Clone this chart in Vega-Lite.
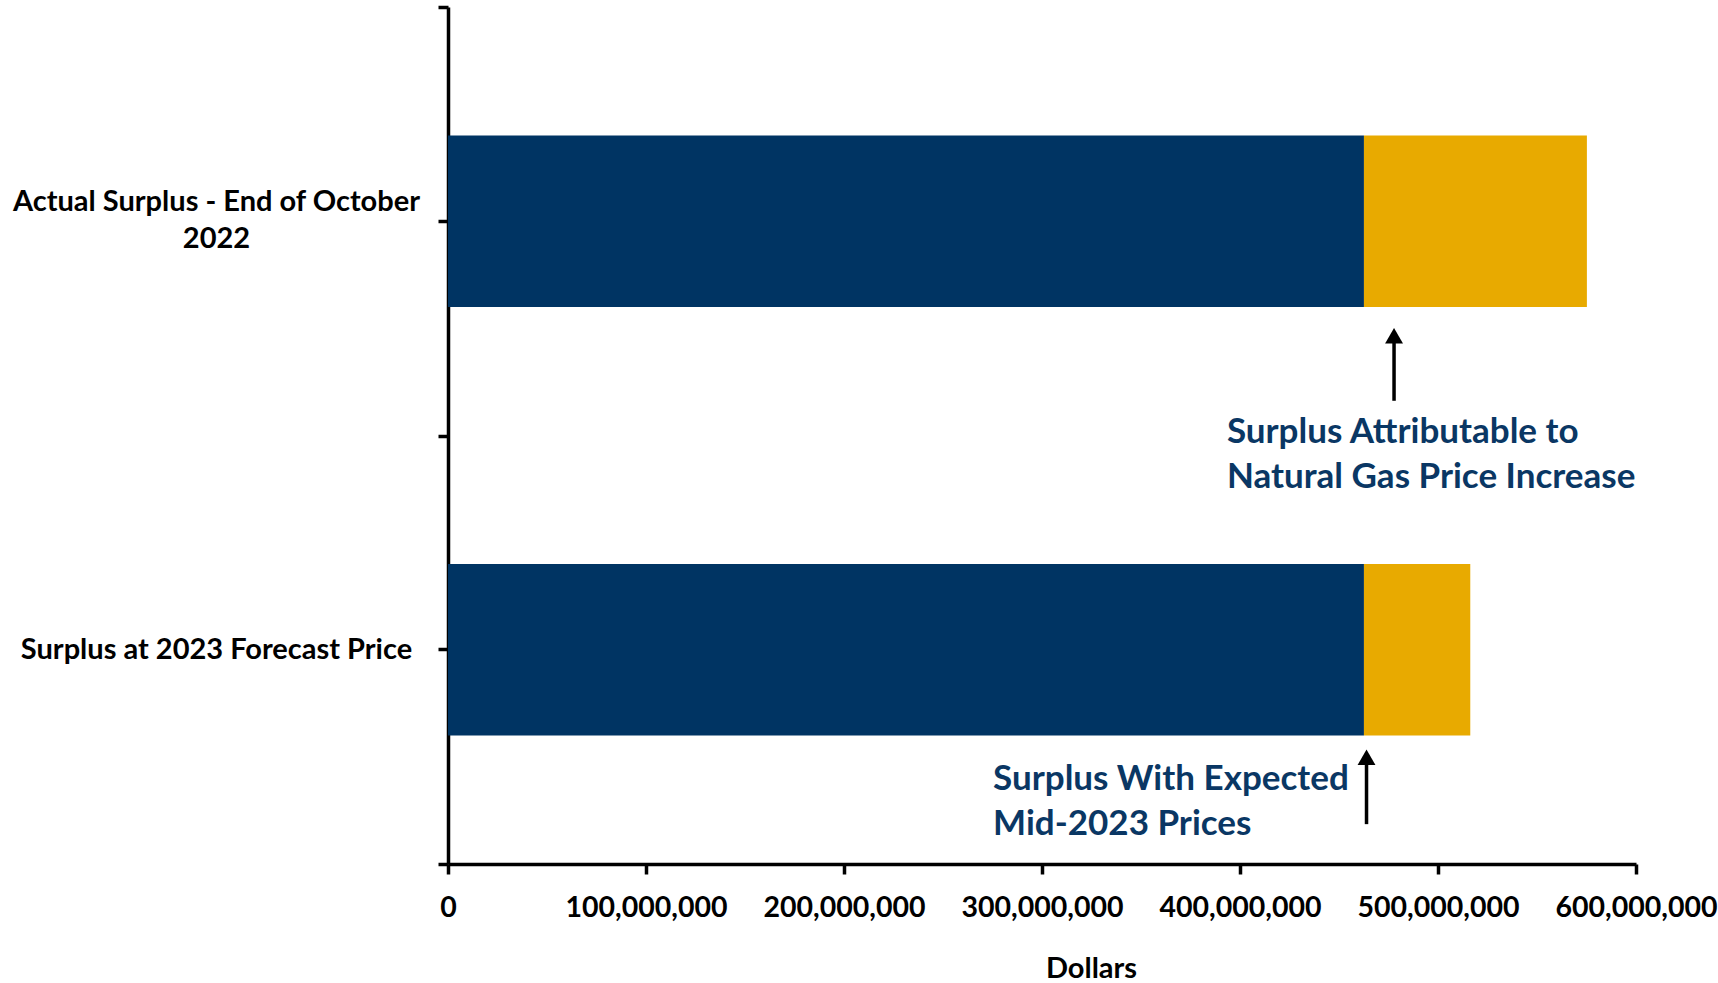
{
  "$schema": "https://vega.github.io/schema/vega-lite/v6.json",
  "autosize": {"type": "none"},
  "padding": {"left": 448, "top": 7, "right": 82, "bottom": 119},
  "width": 1188,
  "height": 857,
  "background": "white",
  "config": {
    "view": {"stroke": null},
    "font": "Lato",
    "axis": {"grid": false}
  },
  "datasets": {
    "bars": [
      {"cat": "Actual Surplus - End of October 2022", "part": "Base", "value": 462600000},
      {"cat": "Actual Surplus - End of October 2022", "part": "Increase", "value": 112600000},
      {"cat": "Surplus at 2023 Forecast Price", "part": "Base", "value": 462600000},
      {"cat": "Surplus at 2023 Forecast Price", "part": "Increase", "value": 53700000}
    ],
    "arrows": [
      {"x": 477800000, "tip": 0.751, "end": 0.919, "head": 0.767},
      {"x": 463900000, "tip": 1.735, "end": 1.907, "head": 1.751}
    ],
    "notes": [
      {"x": 393400000, "y": 0.9915, "label": "Surplus Attributable to\nNatural Gas Price Increase"},
      {"x": 275300000, "y": 1.802, "label": "Surplus With Expected\nMid-2023 Prices"}
    ]
  },
  "layer": [
    {
      "data": {"name": "bars"},
      "mark": {"type": "bar", "height": {"band": 0.4}},
      "encoding": {
        "y": {
          "field": "cat", "type": "nominal", "sort": null,
          "scale": {"paddingInner": 0, "paddingOuter": 0},
          "axis": {
            "title": null,
            "domain": true, "domainColor": "black", "domainWidth": 3.5,
            "ticks": true, "tickColor": "black", "tickWidth": 3.5, "tickSize": 10,
            "labelFont": "Lato", "labelFontWeight": "bold", "labelFontSize": 29, "labelColor": "black",
            "labelAlign": "center", "labelBaseline": "middle", "labelPadding": 222, "labelLimit": 0,
            "labelLineHeight": 37,
            "labelOffset": {"condition": {"test": "datum.value == 'Actual Surplus - End of October 2022'", "value": -19}, "value": 0},
            "labelExpr": "datum.value == 'Actual Surplus - End of October 2022' ? ['Actual Surplus - End of October', '2022'] : datum.value"
          }
        },
        "x": {
          "field": "value", "type": "quantitative", "stack": "zero",
          "scale": {"domain": [0, 600000000], "nice": false},
          "axis": {
            "values": [0, 100000000, 200000000, 300000000, 400000000, 500000000, 600000000],
            "format": ",d",
            "title": "Dollars",
            "titleFont": "Lato", "titleFontWeight": "bold", "titleFontSize": 29, "titleColor": "black",
            "titleX": 643, "titleY": 113, "titleBaseline": "alphabetic", "titleAlign": "center",
            "domain": true, "domainColor": "black", "domainWidth": 3.5,
            "ticks": true, "tickColor": "black", "tickWidth": 3.5, "tickSize": 10,
            "labelFont": "Lato", "labelFontWeight": "bold", "labelFontSize": 28.5, "labelColor": "black",
            "labelPadding": 19, "labelFlush": false, "labelOverlap": false, "labelBaseline": "top"
          }
        },
        "color": {
          "field": "part", "type": "nominal",
          "scale": {"domain": ["Base", "Increase"], "range": ["#003463", "#E8AA00"]},
          "legend": null
        },
        "order": {"field": "part", "sort": "ascending"}
      }
    },
    {
      "layer": [
        {
          "data": {"name": "arrows"},
          "mark": {"type": "rule", "color": "black", "strokeWidth": 3.5},
          "encoding": {
            "x": {"field": "x", "type": "quantitative"},
            "y": {
              "field": "head", "type": "quantitative",
              "scale": {"domain": [0, 2], "reverse": true, "nice": false, "zero": false},
              "axis": {
                "orient": "left", "values": [0, 1, 2], "labels": false, "domain": false,
                "ticks": true, "tickColor": "black", "tickWidth": 3.5, "tickSize": 10, "title": null
              }
            },
            "y2": {"field": "end"}
          }
        },
        {
          "data": {"name": "arrows"},
          "mark": {"type": "point", "shape": "triangle-up", "filled": true, "color": "black", "size": 320, "opacity": 1},
          "encoding": {
            "x": {"field": "x", "type": "quantitative"},
            "y": {"field": "head", "type": "quantitative"}
          }
        },
        {
          "data": {"name": "notes"},
          "mark": {"type": "text", "align": "left", "baseline": "middle", "lineBreak": "\n", "lineHeight": 45,
                   "font": "Lato", "fontWeight": "bold", "fontSize": 35, "color": "#0A3764"},
          "encoding": {
            "x": {"field": "x", "type": "quantitative"},
            "y": {"field": "y", "type": "quantitative"},
            "text": {"field": "label", "type": "nominal"}
          }
        }
      ]
    }
  ],
  "resolve": {"scale": {"y": "independent"}, "axis": {"y": "independent"}}
}
